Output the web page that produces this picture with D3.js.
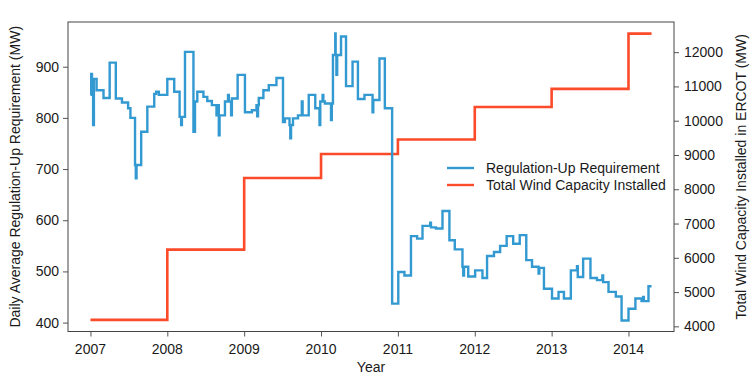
<!DOCTYPE html>
<html>
<head>
<meta charset="utf-8">
<script src="https://cdn.jsdelivr.net/npm/d3@7"></script>
<style>
  body { margin: 0; background: #fff; }
  text { font-family: "Liberation Sans", Arial, sans-serif; }
</style>
</head>
<body>
<div id="chart"></div>
<script>
// regulation-up requirement, step series (decimal year, MW)
const regYears = [
  2007.000, 2007.010, 2007.020, 2007.035, 2007.045, 2007.080, 2007.170, 2007.250, 2007.330, 2007.410,
  2007.490, 2007.520, 2007.580, 2007.590, 2007.600, 2007.660, 2007.740, 2007.830, 2007.855, 2007.890,
  2008.000, 2008.090, 2008.160, 2008.180, 2008.190, 2008.230, 2008.340, 2008.360, 2008.390, 2008.470,
  2008.520, 2008.580, 2008.640, 2008.650, 2008.670, 2008.680, 2008.750, 2008.790, 2008.800, 2008.830,
  2008.840, 2008.915, 2009.010, 2009.100, 2009.160, 2009.170, 2009.180, 2009.190, 2009.250, 2009.320,
  2009.420, 2009.505, 2009.530, 2009.590, 2009.600, 2009.610, 2009.635, 2009.700, 2009.750, 2009.760,
  2009.840, 2009.925, 2009.980, 2009.990, 2010.020, 2010.030, 2010.050, 2010.130, 2010.140, 2010.155,
  2010.185, 2010.190, 2010.200, 2010.210, 2010.260, 2010.325, 2010.410, 2010.480, 2010.565, 2010.670,
  2010.680, 2010.760, 2010.830, 2010.925, 2011.005, 2011.085, 2011.170, 2011.250, 2011.320, 2011.420,
  2011.430, 2011.495, 2011.580, 2011.670, 2011.740, 2011.840, 2011.850, 2011.860, 2011.915, 2012.005,
  2012.100, 2012.160, 2012.250, 2012.330, 2012.415, 2012.500, 2012.585, 2012.670, 2012.745, 2012.830,
  2012.840, 2012.900, 2013.005, 2013.090, 2013.160, 2013.250, 2013.330, 2013.340, 2013.410, 2013.505,
  2013.590, 2013.660, 2013.670, 2013.740, 2013.835, 2013.910, 2014.000, 2014.090, 2014.170, 2014.190,
  2014.200, 2014.260, 2014.300
]
const regValues = [
  845, 886, 850, 786, 876, 854, 839, 908, 838, 830,
  819, 800, 708, 682, 708, 773, 822, 847, 851, 845,
  876, 851, 802, 786, 802, 929, 773, 832, 851, 841,
  833, 825, 805, 825, 766, 805, 832, 845, 832, 805,
  838, 884, 811, 815, 825, 803, 825, 839, 854, 864,
  878, 792, 799, 786, 760, 786, 799, 805, 832, 805,
  845, 819, 786, 832, 845, 832, 828, 796, 828, 923,
  965, 923, 884, 923, 959, 862, 910, 837, 845, 811,
  835, 916, 819, 437, 499, 492, 569, 564, 589, 595,
  586, 584, 618, 561, 543, 509, 492, 509, 490, 502,
  487, 530, 538, 550, 569, 554, 571, 522, 509, 496,
  507, 466, 447, 460, 447, 502, 510, 489, 525, 487,
  483, 492, 479, 460, 451, 404, 427, 447, 442, 450,
  442, 471, 471
]

// total installed wind capacity (MW)
const windYears = [2007, 2008, 2009, 2010, 2011, 2012, 2013, 2014, 2014.30]
const windValues = [4190, 6240, 8330, 9030, 9450, 10400, 10930, 12540, 12540]

const yearTicks = [2007, 2008, 2009, 2010, 2011, 2012, 2013, 2014]
const leftTicks = [400, 500, 600, 700, 800, 900]
const rightTicks = [4000, 5000, 6000, 7000, 8000, 9000, 10000, 11000, 12000]

const legendLabels = ["Regulation-Up Requirement", "Total Wind Capacity Installed"]
const blue = "#3399d1"
const red = "#fc4b2a"
const textColor = "#1a1a1a"

const width = 754
const height = 377
const margin = {top: 22, right: 80, bottom: 45.5, left: 68}
const innerWidth = width - margin.left - margin.right
const innerHeight = height - margin.top - margin.bottom

const svg = d3.select("#chart").append("svg")
              .attr("width", width)
              .attr("height", height)
const chart = svg.append("g")
                 .attr("transform", `translate(${margin.left}, ${margin.top})`)

// scales (R style 4% padding)
const xScale = d3.scaleLinear()
                 .domain([2006.708, 2014.592])
                 .range([0, innerWidth])
const yLeft = d3.scaleLinear()
                .domain([382.6, 987.4])
                .range([innerHeight, 0])
const yRight = d3.scaleLinear()
                 .domain([3850, 12880])
                 .range([innerHeight, 0])

// axes: tick marks from d3, labels placed below
const xAxis = d3.axisBottom(xScale).tickValues(yearTicks).tickFormat("").tickSize(5)
const leftAxis = d3.axisLeft(yLeft).tickValues(leftTicks).tickFormat("").tickSize(5)
const rightAxis = d3.axisRight(yRight).tickValues(rightTicks).tickFormat("").tickSize(5)

chart.append("g")
     .attr("class", "x-axis")
     .attr("transform", `translate(0, ${innerHeight})`)
     .call(xAxis)
chart.append("g")
     .attr("class", "y-axis")
     .call(leftAxis)
chart.append("g")
     .attr("class", "y2-axis")
     .attr("transform", `translate(${innerWidth}, 0)`)
     .call(rightAxis)

chart.selectAll(".domain").remove()
chart.selectAll(".tick text").remove()
chart.selectAll(".tick line").attr("stroke", "#555")

const labels = svg.append("g")
                  .attr("font-size", "14px")
                  .attr("fill", textColor)
labels.selectAll(".x-label")
      .data(yearTicks)
      .join("text")
      .attr("class", "x-label")
      .attr("x", d => margin.left + xScale(d))
      .attr("y", margin.top + innerHeight + 22)
      .attr("text-anchor", "middle")
      .text(d => d)
labels.selectAll(".yl-label")
      .data(leftTicks)
      .join("text")
      .attr("class", "yl-label")
      .attr("x", margin.left - 9)
      .attr("y", d => margin.top + yLeft(d) + 5)
      .attr("text-anchor", "end")
      .text(d => d)
labels.selectAll(".yr-label")
      .data(rightTicks)
      .join("text")
      .attr("class", "yr-label")
      .attr("x", margin.left + innerWidth + 10)
      .attr("y", d => margin.top + yRight(d) + 5)
      .attr("text-anchor", "start")
      .text(d => d)

// frame
chart.append("rect")
     .attr("x", 0)
     .attr("y", 0)
     .attr("width", innerWidth)
     .attr("height", innerHeight)
     .attr("fill", "none")
     .attr("stroke", "#444")
     .attr("stroke-width", 1)

// lines
const windLine = d3.line()
                   .x((d, i) => xScale(windYears[i]))
                   .y(d => yRight(d))
                   .curve(d3.curveStepAfter)
const regLine = d3.line()
                  .x((d, i) => xScale(regYears[i]))
                  .y(d => yLeft(d))
                  .curve(d3.curveStepAfter)

chart.append("path")
     .attr("d", windLine(windValues))
     .attr("fill", "none")
     .attr("stroke", red)
     .attr("stroke-width", 2.6)
chart.append("path")
     .attr("d", regLine(regValues))
     .attr("fill", "none")
     .attr("stroke", blue)
     .attr("stroke-width", 2.4)

// axis titles
svg.append("text")
   .attr("x", margin.left + xScale(2010.65))
   .attr("y", 372)
   .attr("text-anchor", "middle")
   .attr("font-size", "14px")
   .attr("fill", textColor)
   .text("Year")
svg.append("text")
   .attr("transform", `translate(20, ${margin.top + innerHeight / 2}) rotate(-90)`)
   .attr("text-anchor", "middle")
   .attr("font-size", "14px")
   .attr("fill", textColor)
   .text("Daily Average Regulation-Up Requirement (MW)")
svg.append("text")
   .attr("transform", `translate(746, ${margin.top + innerHeight / 2}) rotate(-90)`)
   .attr("text-anchor", "middle")
   .attr("font-size", "14px")
   .attr("fill", textColor)
   .text("Total Wind Capacity Installed in ERCOT (MW)")

// legend
const legend = svg.append("g")
                  .attr("transform", "translate(447, 168)")
legend.selectAll("line")
      .data(legendLabels)
      .join("line")
      .attr("x1", 0)
      .attr("x2", 27)
      .attr("y1", (d, i) => i * 17)
      .attr("y2", (d, i) => i * 17)
      .attr("stroke", (d, i) => i === 0 ? blue : red)
      .attr("stroke-width", 2.4)
legend.selectAll("text")
      .data(legendLabels)
      .join("text")
      .attr("x", 39)
      .attr("y", (d, i) => i * 17)
      .attr("dy", "0.35em")
      .attr("font-size", "14px")
      .attr("fill", textColor)
      .text(d => d)
</script>
</body>
</html>
